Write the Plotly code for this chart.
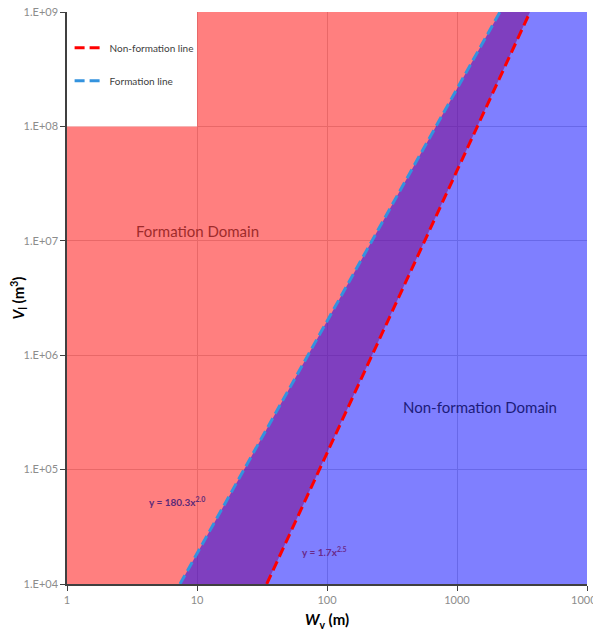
import math
import plotly.graph_objects as go

# ---- data (log-log straight lines, endpoints) ----
formation_x = [7.4, 2140.0]          # y = 180.3x^2.0
formation_y = [1e4, 1e9]
nonformation_x = [34.4, 3645.0]      # y = 1.7x^2.5
nonformation_y = [1e4, 1e9]

x_min, x_max = 1, 10000
y_min, y_max = 1e4, 1e9
legend_box_x = [1, 10]
legend_box_y = [1e8, 1e9]

x_tickvals = [1, 10, 100, 1000, 10000]
x_ticktext = ["1", "10", "100", "1000", "10000"]
y_tickvals = [1e4, 1e5, 1e6, 1e7, 1e8, 1e9]
y_ticktext = ["1.E+04", "1.E+05", "1.E+06", "1.E+07", "1.E+08", "1.E+09"]

FONT = "Lato"
fig = go.Figure()

# red area: left of the non-formation line
fig.add_trace(go.Scatter(
    x=[x_min, nonformation_x[0], nonformation_x[1], x_min],
    y=[y_min, nonformation_y[0], nonformation_y[1], y_max],
    fill="toself", fillcolor="rgba(255,0,0,0.5)", mode="none",
    showlegend=False, hoverinfo="skip"))
# blue area: right of the formation line
fig.add_trace(go.Scatter(
    x=[formation_x[0], x_max, x_max, formation_x[1]],
    y=[formation_y[0], y_min, y_max, formation_y[1]],
    fill="toself", fillcolor="rgba(0,0,255,0.5)", mode="none",
    showlegend=False, hoverinfo="skip"))
# white legend box region
fig.add_trace(go.Scatter(
    x=[legend_box_x[0], legend_box_x[1], legend_box_x[1], legend_box_x[0]],
    y=[legend_box_y[0], legend_box_y[0], legend_box_y[1], legend_box_y[1]],
    fill="toself", fillcolor="white", mode="none",
    showlegend=False, hoverinfo="skip"))

fig.add_trace(go.Scatter(
    x=nonformation_x, y=nonformation_y, mode="lines",
    line=dict(color="#FF0000", width=3, dash="10px,5px"),
    name="Non-formation line", legendgroup="a"))
fig.add_trace(go.Scatter(
    x=formation_x, y=formation_y, mode="lines",
    line=dict(color="#3493DE", width=3, dash="10px,5px"),
    name="Formation line", legendgroup="b"))

annotations = [
    dict(x=math.log10(10), y=math.log10(1.22e7), text="Formation Domain",
         font=dict(family=FONT, size=15, color="#9E2B2B")),
    dict(x=math.log10(1500), y=math.log10(3.52e5), text="Non-formation Domain",
         font=dict(family=FONT, size=15, color="#1C1C7A")),
    dict(x=math.log10(7.0), y=math.log10(5.3e4), text="<b>y = 180.3x<sup>2.0</sup></b>",
         font=dict(family=FONT, size=10, color="#5B2A78")),
    dict(x=math.log10(96.5), y=math.log10(1.94e4), text="<b>y = 1.7x<sup>2.5</sup></b>",
         font=dict(family=FONT, size=10, color="#6A2A8A")),
]
for a in annotations:
    a.update(xref="x", yref="y", showarrow=False)

fig.update_layout(
    width=593, height=626,
    margin=dict(l=59, r=14, t=4, b=50),
    paper_bgcolor="white", plot_bgcolor="white",
    font=dict(family=FONT, size=11, color="#8C8C8C"),
    showlegend=True,
    legend=dict(x=0.005, y=0.963, xanchor="left", yanchor="top",
                bgcolor="rgba(0,0,0,0)", borderwidth=0,
                font=dict(family=FONT, size=10, color="#404040"),
                tracegroupgap=14, itemwidth=30),
    annotations=annotations,
    xaxis=dict(type="log", range=[0, 4], tickvals=x_tickvals, ticktext=x_ticktext,
               automargin=False, ticklabeloverflow="allow",
               showgrid=True, gridcolor="#D0D0D0", gridwidth=1,
               showline=True, linecolor="#404040", linewidth=1.5,
               ticks="outside", ticklen=5, tickcolor="#404040",
               tickfont=dict(family=FONT, size=11, color="#8C8C8C"),
               zeroline=False,
               title=dict(text="<b><i>W</i><sub>v</sub> (m)</b>", standoff=10,
                          font=dict(family=FONT, size=15, color="#000000"))),
    yaxis=dict(type="log", range=[4, 9], tickvals=y_tickvals, ticktext=y_ticktext,
               automargin=False, ticklabeloverflow="allow",
               showgrid=True, gridcolor="#D0D0D0", gridwidth=1,
               showline=True, linecolor="#404040", linewidth=1.5,
               ticks="outside", ticklen=5, tickcolor="#404040",
               tickfont=dict(family=FONT, size=11, color="#8C8C8C"),
               zeroline=False,
               title=dict(text="<b><i>V</i><sub>l</sub> (m<sup>3</sup>)</b>", standoff=6,
                          font=dict(family=FONT, size=15, color="#000000"))),
)

fig.write_html("out.html")
